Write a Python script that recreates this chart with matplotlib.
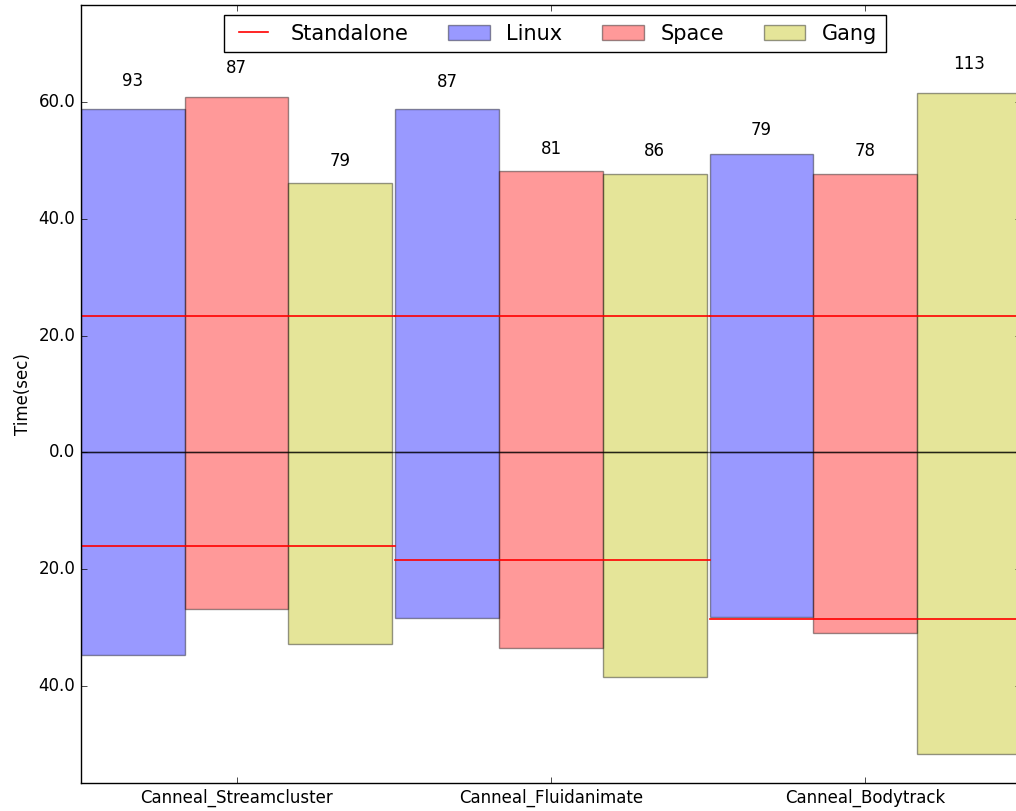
import numpy as np
import matplotlib.pyplot as plt
from matplotlib.ticker import FuncFormatter

plt.style.use('classic')

benchmarks = ['Canneal_Streamcluster', 'Canneal_Fluidanimate', 'Canneal_Bodytrack']

# time of the first app (drawn upwards) and of the second app (drawn downwards)
standalone_up = [23.4, 23.4, 23.4]
standalone_down = [16.1, 18.4, 28.6]

linux_up = [58.95, 58.8, 51.1]
linux_down = [34.8, 28.45, 28.3]
space_up = [60.95, 48.2, 47.8]
space_down = [26.9, 33.5, 31.0]
gang_up = [46.2, 47.8, 61.6]
gang_down = [32.8, 38.5, 51.65]

width = 0.33
ind = np.arange(len(benchmarks))

fig = plt.figure(figsize=(10.16, 8.11), dpi=100, facecolor='white')
ax = fig.add_axes([0.0797, 0.0345, 0.9252, 0.9593])

series = [('Linux', 'b', linux_up, linux_down),
          ('Space', 'r', space_up, space_down),
          ('Gang', 'y', gang_up, gang_down)]

for k, (name, color, up, down) in enumerate(series):
    x = ind + k * width
    ax.bar(x, up, width, align='edge', color=color, alpha=0.4, label=name)
    ax.bar(x, -np.array(down), width, align='edge', color=color, alpha=0.4)
    for xi, u, d in zip(x, up, down):
        ax.text(xi + width / 2, 1.08 * u, '%d' % int(u + d),
                ha='center', va='center', fontsize=12)

for i in ind:
    ax.plot([i, i + 1], [standalone_up[i], standalone_up[i]], 'r-', lw=1.2,
            label='Standalone' if i == 0 else None)
    ax.plot([i, i + 1], [-standalone_down[i], -standalone_down[i]], 'r-', lw=1.2)

ax.axhline(0, color='k', lw=1, alpha=0.6)

ax.set_xlim(0, 2.99)
ax.set_ylim(-56.7, 76.7)
ax.set_yticks([-40, -20, 0, 20, 40, 60])
ax.yaxis.set_major_formatter(FuncFormatter(lambda v, p: '%.1f' % abs(v)))
ax.set_xticks(ind + 1.5 * width)
ax.set_xticklabels(benchmarks, fontsize=12)
ax.tick_params(axis='y', labelsize=12)
ax.set_ylabel('Time(sec)', fontsize=12)

handles, labels = ax.get_legend_handles_labels()
order = [labels.index(n) for n in ['Standalone', 'Linux', 'Space', 'Gang']]
ax.legend([handles[i] for i in order], [labels[i] for i in order],
          loc='upper center', bbox_to_anchor=(0.504, 1), ncol=4, fontsize=15,
          columnspacing=1.9)

fig.savefig('out.png', dpi=100, facecolor='white')
